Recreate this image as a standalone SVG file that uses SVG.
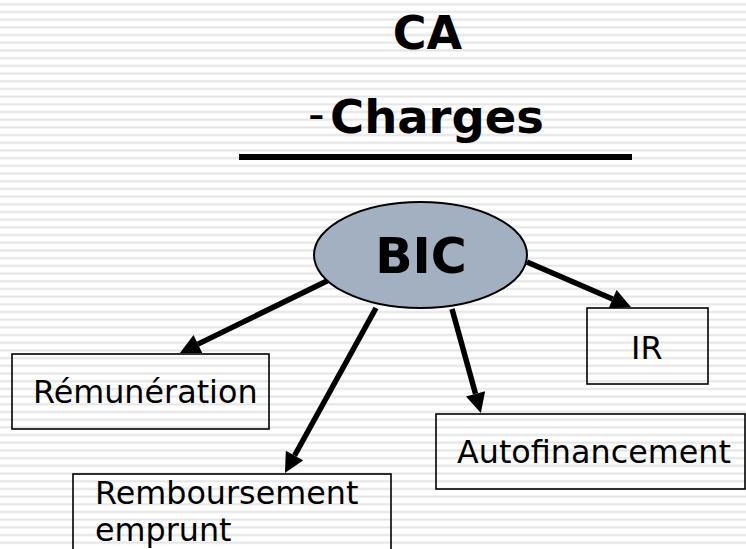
<svg xmlns="http://www.w3.org/2000/svg" width="746" height="549" viewBox="0 0 746 549">
  <defs>
    <pattern id="stripes" patternUnits="userSpaceOnUse" x="0" y="0" width="746" height="7.692">
      <rect x="0" y="3.3" width="746" height="2" fill="#e3e3e3"/>
    </pattern>
    <marker id="arrow" viewBox="0 0 10 10" refX="0" refY="5" markerUnits="userSpaceOnUse" markerWidth="21" markerHeight="20" orient="auto">
      <path d="M0,0 L10,5 L0,10 z" fill="#000"/>
    </marker>
    <style>
      .title { font-family: "DejaVu Sans", Verdana, sans-serif; font-weight: bold; fill: #000; }
      .label { font-family: "DejaVu Sans", Verdana, sans-serif; font-size: 31.8px; fill: #000; }
      .box { fill: none; stroke: #000; stroke-width: 1.6; }
      .conn { stroke: #000; stroke-width: 5.5; fill: none; marker-end: url(#arrow); }
    </style>
  </defs>

  <rect x="0" y="0" width="746" height="549" fill="#ffffff"/>
  <rect x="0" y="0" width="746" height="549" fill="url(#stripes)"/>

  <g id="formula">
    <text class="title" x="427.5" y="49" font-size="46" text-anchor="middle">CA</text>
    <text x="308" y="130" font-size="46" font-family="DejaVu Sans, Verdana, sans-serif" fill="#000">-</text>
    <text class="title" x="330" y="133" font-size="46.5">Charges</text>
    <rect x="239" y="154" width="393" height="6" fill="#000"/>
  </g>

  <g id="connectors">
    <line class="conn" x1="329" y1="280" x2="197.9" y2="344.1"/>
    <line class="conn" x1="376" y1="308" x2="294.6" y2="455.5"/>
    <line class="conn" x1="452" y1="309" x2="475.5" y2="393.8"/>
    <line class="conn" x1="527" y1="262" x2="612.6" y2="299.1"/>
  </g>

  <g id="bic">
    <ellipse cx="420.5" cy="255" rx="106.5" ry="53" fill="#a2b0c1" stroke="#000" stroke-width="2"/>
    <text class="title" x="421" y="273" font-size="49" text-anchor="middle">BIC</text>
  </g>

  <g id="remuneration">
    <rect class="box" x="12" y="354" width="257" height="75"/>
    <text class="label" x="33" y="403">Rémunération</text>
  </g>

  <g id="remboursement">
    <rect class="box" x="73" y="474" width="318" height="90"/>
    <text class="label" x="95" y="504">Remboursement</text>
    <text class="label" x="95" y="541">emprunt</text>
  </g>

  <g id="autofinancement">
    <rect class="box" x="436" y="414" width="309" height="75"/>
    <text class="label" x="457" y="463">Autofinancement</text>
  </g>

  <g id="ir">
    <rect class="box" x="587" y="308" width="121" height="76"/>
    <text class="label" x="631" y="359">IR</text>
  </g>
</svg>
